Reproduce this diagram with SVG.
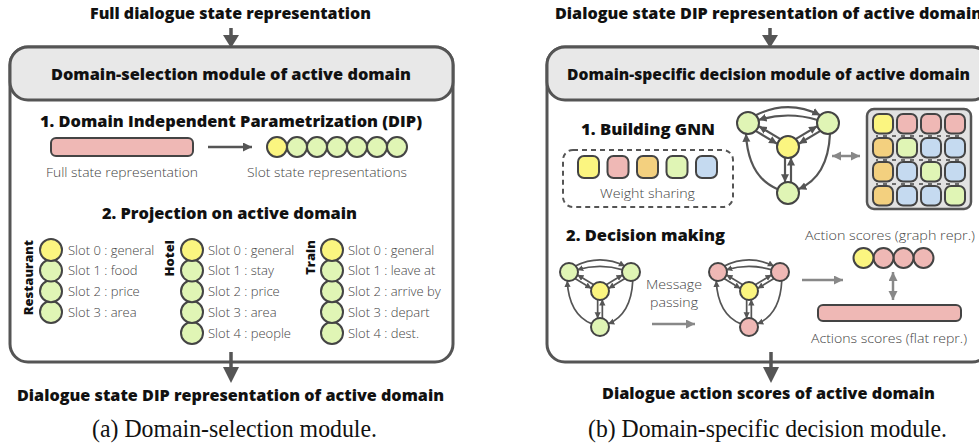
<svg xmlns="http://www.w3.org/2000/svg" xmlns:xlink="http://www.w3.org/1999/xlink" width="979" height="448" viewBox="0 0 979 448">
<style>
.b{font-family:"Open Sans",Lato,"Liberation Sans",sans-serif;font-weight:800;fill:#111;}
.l{font-family:"Open Sans",Lato,"Liberation Sans",sans-serif;font-weight:300;fill:#444;font-size:13px;}
.cap{font-family:"Liberation Serif","Times New Roman",serif;fill:#111;font-size:25px;}
.box{fill:#fff;stroke:#555;stroke-width:3;}
.hdr{fill:#e8e8e8;stroke:#555;stroke-width:3;}
.nd{stroke:#444;stroke-width:2;}
.y{fill:#fbf580;}
.g{fill:#e0f5b5;}
.p{fill:#efb8b5;}
.o{fill:#f3d07f;}
.bl{fill:#c5daf0;}
.e{fill:none;stroke:#555;stroke-width:2.2;marker-end:url(#ah);}
.ga{fill:none;stroke:#888;stroke-width:2.5;}
.main{stroke:#555;stroke-width:3.5;}
.mh{fill:#555;}
</style>
<defs>
<marker id="ah" markerUnits="userSpaceOnUse" markerWidth="10" markerHeight="10" refX="8" refY="4" orient="auto"><path d="M0,0 L8,4 L0,8 z" fill="#555"/></marker>
<marker id="ahg" markerUnits="userSpaceOnUse" markerWidth="10" markerHeight="10" refX="9" refY="4.5" orient="auto-start-reverse"><path d="M0,0 L9,4.5 L0,9 z" fill="#888"/></marker>
<marker id="ahd" markerUnits="userSpaceOnUse" markerWidth="10" markerHeight="10" refX="9" refY="4.5" orient="auto"><path d="M0,0 L9,4.5 L0,9 z" fill="#555"/></marker>
<g id="edges">
<path class="e" d="M-32.2,-31.8 Q0,-48 32.2,-31.8"/>
<path class="e" d="M29.5,-27 Q0,-36 -29.5,-27"/>
<path class="e" d="M-32,-15.9 L-10.9,-3.3"/>
<path class="e" d="M-8,-8.1 L-29.1,-20.7"/>
<path class="e" d="M32,-15.9 L10.9,-3.3"/>
<path class="e" d="M8,-8.1 L29.1,-20.7"/>
<path class="e" d="M-3,10.6 L-3,35.2"/>
<path class="e" d="M3,35.2 L3,10.6"/>
<path class="e" d="M-10.3,42.2 Q-40,30 -42,-13.2"/>
<path class="e" d="M42,-13.2 Q40,30 10.3,42.2"/>
</g>
</defs>

<!-- ===== Panel (a) ===== -->
<g id="a-input">
<text class="b" x="230.5" y="19" font-size="15" text-anchor="middle" textLength="281" lengthAdjust="spacingAndGlyphs">Full dialogue state representation</text>
</g>
<g id="a-module">
<rect class="box" x="10" y="47" width="443" height="315" rx="18"/>
<rect class="hdr" x="10" y="47" width="443" height="53" rx="18"/>
<text class="b" x="231" y="80" font-size="16" text-anchor="middle" textLength="360" lengthAdjust="spacingAndGlyphs">Domain-selection module of active domain</text>
<text class="b" x="231" y="127" font-size="16" text-anchor="middle" textLength="382" lengthAdjust="spacingAndGlyphs">1. Domain Independent Parametrization (DIP)</text>
</g>
<g id="a-full-state">
<rect class="nd p" x="51" y="138" width="142" height="18" rx="5"/>
<text class="l" x="122" y="177" text-anchor="middle" textLength="152" lengthAdjust="spacingAndGlyphs">Full state representation</text>
</g>
<g id="a-slot-states">
<circle class="nd g" cx="397" cy="147" r="10"/>
<circle class="nd g" cx="377" cy="147" r="10"/>
<circle class="nd g" cx="357" cy="147" r="10"/>
<circle class="nd g" cx="337" cy="147" r="10"/>
<circle class="nd g" cx="317" cy="147" r="10"/>
<circle class="nd g" cx="297" cy="147" r="10"/>
<circle class="nd y" cx="277" cy="147" r="10"/>
<text class="l" x="327" y="177" text-anchor="middle" textLength="160" lengthAdjust="spacingAndGlyphs">Slot state representations</text>
</g>
<text class="b" x="229.5" y="219" font-size="16" text-anchor="middle" textLength="255" lengthAdjust="spacingAndGlyphs">2. Projection on active domain</text>

<g id="a-restaurant">
<text class="b" font-size="13" text-anchor="end" transform="translate(33,240) rotate(-90)">Restaurant</text>
<circle class="nd g" cx="51" cy="312" r="11"/>
<circle class="nd g" cx="51" cy="291.3" r="11"/>
<circle class="nd g" cx="51" cy="270.6" r="11"/>
<circle class="nd y" cx="51" cy="250" r="11"/>
<text class="l" x="68" y="254.5">Slot 0 : general</text>
<text class="l" x="68" y="275">Slot 1 : food</text>
<text class="l" x="68" y="296">Slot 2 : price</text>
<text class="l" x="68" y="316.5">Slot 3 : area</text>
</g>
<g id="a-hotel">
<text class="b" font-size="13" text-anchor="end" transform="translate(174,240) rotate(-90)">Hotel</text>
<circle class="nd g" cx="192" cy="333" r="11"/>
<circle class="nd g" cx="192" cy="312" r="11"/>
<circle class="nd g" cx="192" cy="291.3" r="11"/>
<circle class="nd g" cx="192" cy="270.6" r="11"/>
<circle class="nd y" cx="192" cy="250" r="11"/>
<text class="l" x="208" y="254.5">Slot 0 : general</text>
<text class="l" x="208" y="275">Slot 1 : stay</text>
<text class="l" x="208" y="296">Slot 2 : price</text>
<text class="l" x="208" y="316.5">Slot 3 : area</text>
<text class="l" x="208" y="337.5">Slot 4 : people</text>
</g>
<g id="a-train">
<text class="b" font-size="13" text-anchor="end" transform="translate(315,240) rotate(-90)">Train</text>
<circle class="nd g" cx="332" cy="333" r="11"/>
<circle class="nd g" cx="332" cy="312" r="11"/>
<circle class="nd g" cx="332" cy="291.3" r="11"/>
<circle class="nd g" cx="332" cy="270.6" r="11"/>
<circle class="nd y" cx="332" cy="250" r="11"/>
<text class="l" x="348" y="254.5">Slot 0 : general</text>
<text class="l" x="348" y="275">Slot 1 : leave at</text>
<text class="l" x="348" y="296">Slot 2 : arrive by</text>
<text class="l" x="348" y="316.5">Slot 3 : depart</text>
<text class="l" x="348" y="337.5">Slot 4 : dest.</text>
</g>
<g id="a-output">
<text class="b" x="230.5" y="401" font-size="15" text-anchor="middle" textLength="427" lengthAdjust="spacingAndGlyphs">Dialogue state DIP representation of active domain</text>
</g>
<text class="cap" x="234.5" y="437" text-anchor="middle" textLength="285" lengthAdjust="spacingAndGlyphs">(a) Domain-selection module.</text>

<!-- ===== Panel (b) ===== -->
<g id="b-input">
<text class="b" x="555" y="19" font-size="15" textLength="427" lengthAdjust="spacingAndGlyphs">Dialogue state DIP representation of active domain</text>
</g>
<g id="b-module">
<rect class="box" x="547" y="47" width="443" height="315" rx="18"/>
<rect class="hdr" x="547" y="47" width="443" height="53" rx="18"/>
<text class="b" x="768.5" y="80" font-size="16" text-anchor="middle" textLength="403" lengthAdjust="spacingAndGlyphs">Domain-specific decision module of active domain</text>
</g>
<g id="b-building">
<text class="b" x="648" y="135" font-size="16" text-anchor="middle" textLength="134" lengthAdjust="spacingAndGlyphs">1. Building GNN</text>
<rect x="563" y="150" width="170" height="57" rx="10" fill="none" stroke="#555" stroke-width="2" stroke-dasharray="5,4"/>
<rect class="nd y" x="578" y="156" width="21" height="22" rx="6"/>
<rect class="nd p" x="607.5" y="156" width="21" height="22" rx="6"/>
<rect class="nd o" x="637" y="156" width="21" height="22" rx="6"/>
<rect class="nd g" x="666.5" y="156" width="21" height="22" rx="6"/>
<rect class="nd bl" x="696" y="156" width="21" height="22" rx="6"/>
<text class="l" x="647.5" y="198" text-anchor="middle" textLength="95" lengthAdjust="spacingAndGlyphs">Weight sharing</text>
</g>
<g id="b-gnn">
<use xlink:href="#edges" transform="translate(788,147)"/>
<circle class="nd g" cx="748" cy="123" r="11"/>
<circle class="nd g" cx="828" cy="123" r="11"/>
<circle class="nd y" cx="788" cy="147" r="11"/>
<circle class="nd g" cx="788" cy="193" r="11"/>
</g>
<g id="b-matrix">
<rect x="867" y="109" width="104" height="100" rx="7" fill="#e2e2e2" stroke="#555" stroke-width="2.5"/>
<g stroke="#444" stroke-width="1.5" stroke-dasharray="4,5" stroke-dashoffset="2">
<line x1="876" y1="136" x2="964" y2="136"/>
<line x1="876" y1="160" x2="964" y2="160"/>
<line x1="876" y1="184" x2="964" y2="184"/>
</g>
<rect class="nd y" x="873" y="114" width="20" height="19.5" rx="6"/>
<rect class="nd p" x="897" y="114" width="20" height="19.5" rx="6"/>
<rect class="nd p" x="921" y="114" width="20" height="19.5" rx="6"/>
<rect class="nd p" x="945" y="114" width="20" height="19.5" rx="6"/>
<rect class="nd o" x="873" y="138" width="20" height="19.5" rx="6"/>
<rect class="nd g" x="897" y="138" width="20" height="19.5" rx="6"/>
<rect class="nd bl" x="921" y="138" width="20" height="19.5" rx="6"/>
<rect class="nd bl" x="945" y="138" width="20" height="19.5" rx="6"/>
<rect class="nd o" x="873" y="162" width="20" height="19.5" rx="6"/>
<rect class="nd bl" x="897" y="162" width="20" height="19.5" rx="6"/>
<rect class="nd g" x="921" y="162" width="20" height="19.5" rx="6"/>
<rect class="nd bl" x="945" y="162" width="20" height="19.5" rx="6"/>
<rect class="nd o" x="873" y="186" width="20" height="19.5" rx="6"/>
<rect class="nd bl" x="897" y="186" width="20" height="19.5" rx="6"/>
<rect class="nd bl" x="921" y="186" width="20" height="19.5" rx="6"/>
<rect class="nd g" x="945" y="186" width="20" height="19.5" rx="6"/>
</g>
<text class="b" x="566" y="241" font-size="16" textLength="159" lengthAdjust="spacingAndGlyphs">2. Decision making</text>
<g id="b-graph-in">
<use xlink:href="#edges" transform="translate(600,291) scale(0.78)"/>
<circle class="nd g" cx="569" cy="272" r="9"/>
<circle class="nd g" cx="631" cy="272" r="9"/>
<circle class="nd y" cx="600" cy="291" r="9"/>
<circle class="nd g" cx="600" cy="327" r="9"/>
</g>
<g id="b-message">
<text class="l" x="674" y="289" text-anchor="middle" textLength="56" lengthAdjust="spacingAndGlyphs">Message</text>
<text class="l" x="674" y="307" text-anchor="middle" textLength="48" lengthAdjust="spacingAndGlyphs">passing</text>
</g>
<g id="b-graph-out">
<use xlink:href="#edges" transform="translate(749,291) scale(0.78)"/>
<circle class="nd p" cx="718" cy="272" r="9"/>
<circle class="nd p" cx="780" cy="272" r="9"/>
<circle class="nd y" cx="749" cy="291" r="9"/>
<circle class="nd p" cx="749" cy="327" r="9"/>
</g>
<g id="b-graph-scores">
<text class="l" x="890" y="240" text-anchor="middle" textLength="170" lengthAdjust="spacingAndGlyphs">Action scores (graph repr.)</text>
<circle class="nd p" cx="923.5" cy="258" r="10"/>
<circle class="nd p" cx="903.5" cy="258" r="10"/>
<circle class="nd p" cx="883.5" cy="258" r="10"/>
<circle class="nd y" cx="863.5" cy="258" r="10"/>
</g>
<g id="b-flat-scores">
<rect class="nd p" x="818" y="305" width="143" height="16" rx="5"/>
<text class="l" x="889" y="343" text-anchor="middle" textLength="156" lengthAdjust="spacingAndGlyphs">Actions scores (flat repr.)</text>
</g>
<g id="b-output">
<text class="b" x="768.5" y="399" font-size="15" text-anchor="middle" textLength="333" lengthAdjust="spacingAndGlyphs">Dialogue action scores of active domain</text>
</g>
<text class="cap" x="767.5" y="437" text-anchor="middle" textLength="359" lengthAdjust="spacingAndGlyphs">(b) Domain-specific decision module.</text>

<!-- ===== Connectors ===== -->
<g id="connectors">
<line class="main" x1="231" y1="28" x2="231" y2="37"/>
<polygon class="mh" points="223,35 239,35 231,48"/>
<line class="main" x1="231" y1="352" x2="231" y2="369"/>
<polygon class="mh" points="223,367 239,367 231,383"/>
<line class="main" x1="770" y1="28" x2="770" y2="37"/>
<polygon class="mh" points="762,35 778,35 770,48"/>
<line class="main" x1="771" y1="352" x2="771" y2="369"/>
<polygon class="mh" points="763,367 779,367 771,383"/>
<path d="M208,147 L252,147" fill="none" stroke="#555" stroke-width="2.5" marker-end="url(#ahd)"/>
<path class="ga" d="M832,156 L860,156" marker-start="url(#ahg)" marker-end="url(#ahg)"/>
<path class="ga" d="M652,324 L695,324" marker-end="url(#ahg)"/>
<path class="ga" d="M802,280 L843,280" marker-end="url(#ahg)"/>
<path class="ga" d="M893,272 L893,300" marker-start="url(#ahg)" marker-end="url(#ahg)"/>
</g>
</svg>
